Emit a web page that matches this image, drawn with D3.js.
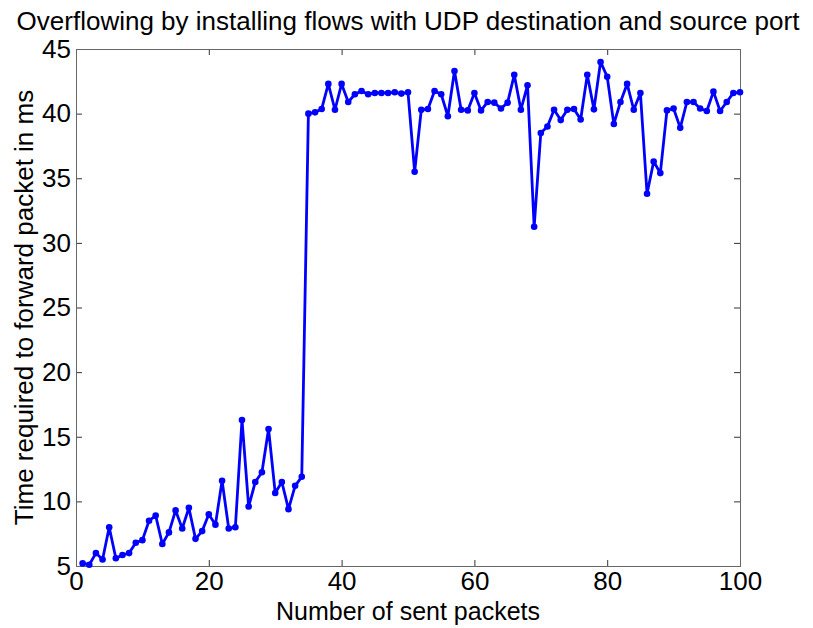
<!DOCTYPE html>
<html>
<head>
<meta charset="utf-8">
<script src="https://cdn.jsdelivr.net/npm/d3@7"></script>
<style>
  body { margin: 0; background: #fff; }
  svg text { font-family: "Liberation Sans", Arial, sans-serif; fill: #000; }
</style>
</head>
<body>
<svg id="chart" width="813" height="628"></svg>
<script>
// Chart data
const chartTitle = 'Overflowing by installing flows with UDP destination and source port';
const xLabel = 'Number of sent packets';
const yLabel = 'Time required to forward packet in ms';

const xTicks = [0, 20, 40, 60, 80, 100];
const yTicks = [5, 10, 15, 20, 25, 30, 35, 40, 45];

// packets 1..100
const forwardTimes = [
    5.2, 5.1, 6.0, 5.5, 8.0, 5.6, 5.85, 6.0, 6.8, 7.0,
    8.5, 8.9, 6.7, 7.6, 9.3, 7.9, 9.5, 7.1, 7.7, 9.0,
    8.2, 11.6, 7.9, 8.0, 16.3, 9.6, 11.5, 12.25, 15.6, 10.65,
    11.5, 9.4, 11.2, 11.9, 40.0, 40.1, 40.36, 42.3, 40.3, 42.3,
    40.9, 41.5, 41.75, 41.5, 41.6, 41.6, 41.6, 41.65, 41.55, 41.65,
    35.5, 40.3, 40.36, 41.75, 41.5, 39.8, 43.3, 40.3, 40.25, 41.6,
    40.25, 40.9, 40.85, 40.4, 40.85, 43.0, 40.3, 42.2, 31.25, 38.5,
    39.0, 40.3, 39.5, 40.3, 40.36, 39.55, 43.0, 40.33, 44.0, 42.85,
    39.2, 40.9, 42.3, 40.3, 41.6, 33.8, 36.3, 35.4, 40.25, 40.4,
    38.9, 40.9, 40.9, 40.4, 40.2, 41.7, 40.2, 40.9, 41.6, 41.65
];

const points = forwardTimes.map((v, i) => ({ n: i + 1, v: v }));

const svg = d3.select('#chart');
const margin = { top: 49, right: 73, bottom: 62, left: 76 };
const width = 813, height = 628;
const innerW = width - margin.left - margin.right;
const innerH = height - margin.top - margin.bottom;

const x = d3.scaleLinear().domain([0, 100]).range([0, innerW]);
const y = d3.scaleLinear().domain([5, 45]).range([innerH, 0]);

const g = svg.append('g')
    .attr('transform', `translate(${margin.left},${margin.top})`);

// Axes (MATLAB style: ticks point inward, box on)
const fontSize = '26px';

g.append('g')
    .attr('transform', `translate(0,${innerH})`)
    .call(d3.axisBottom(x).tickValues(xTicks).tickSizeInner(-6).tickSizeOuter(0).tickPadding(6));

g.append('g')
    .call(d3.axisLeft(y).tickValues(yTicks).tickSizeInner(-6).tickSizeOuter(0).tickPadding(5));

g.append('g')
    .call(d3.axisTop(x).tickValues(xTicks).tickSizeInner(-6).tickSizeOuter(0).tickFormat(''));

g.append('g')
    .attr('transform', `translate(${innerW},0)`)
    .call(d3.axisRight(y).tickValues(yTicks).tickSizeInner(-6).tickSizeOuter(0).tickFormat(''));

g.selectAll('.domain').remove();
g.selectAll('.tick line').attr('stroke', '#333');
g.selectAll('.tick text')
    .style('font-size', fontSize)
    .style('font-family', '"Liberation Sans", Arial, sans-serif')
    .attr('fill', '#000');

// Box
g.append('rect')
    .attr('x', 0.5)
    .attr('y', 0.5)
    .attr('width', innerW)
    .attr('height', innerH)
    .attr('fill', 'none')
    .attr('stroke', '#666')
    .attr('stroke-width', 1);

// Line
const line = d3.line()
    .x(d => x(d.n))
    .y(d => y(d.v));

g.append('path')
    .datum(points)
    .attr('d', line)
    .attr('fill', 'none')
    .attr('stroke', '#0000ff')
    .attr('stroke-width', 2.8)
    .attr('stroke-linejoin', 'round');

g.selectAll('.dot')
    .data(points)
    .enter()
    .append('circle')
    .attr('class', 'dot')
    .attr('cx', d => x(d.n))
    .attr('cy', d => y(d.v))
    .attr('r', 3.3)
    .attr('fill', '#0000ff');

// Title
svg.append('text')
    .attr('x', margin.left + innerW / 2)
    .attr('y', 30)
    .attr('text-anchor', 'middle')
    .style('font-size', fontSize)
    .text(chartTitle);

// Axis labels
svg.append('text')
    .attr('x', margin.left + innerW / 2)
    .attr('y', 620)
    .attr('text-anchor', 'middle')
    .style('font-size', '25px')
    .text(xLabel);

svg.append('text')
    .attr('transform', `translate(33,${margin.top + innerH / 2}) rotate(-90)`)
    .attr('text-anchor', 'middle')
    .style('font-size', fontSize)
    .text(yLabel);
</script>
</body>
</html>
